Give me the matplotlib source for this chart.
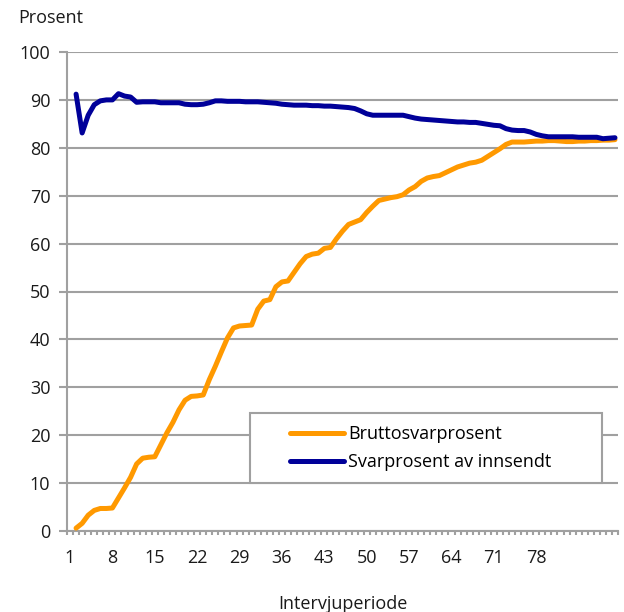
import numpy as np
import matplotlib
matplotlib.use('Agg')
import matplotlib.pyplot as plt
from matplotlib.patches import Rectangle

plt.rcParams['font.family'] = ['Open Sans', 'DejaVu Sans']

# interview periods 1..91, data starts at period 2
n_periods = 91
first_period = 2
tick_labels = [1, 8, 15, 22, 29, 36, 43, 50, 57, 64, 71, 78]

brutto = [0.6, 1.6, 3.3, 4.3, 4.7, 4.7, 4.8, 6.9, 9.0, 11.2,
          14.0, 15.2, 15.4, 15.5, 18.0, 20.5, 22.7, 25.3, 27.3, 28.1,
          28.2, 28.4, 31.6, 34.4, 37.4, 40.3, 42.4, 42.8, 42.9, 43.0,
          46.3, 48.0, 48.3, 51.0, 52.0, 52.2, 54.0, 55.8, 57.3, 57.8,
          58.0, 59.0, 59.2, 61.0, 62.6, 64.0, 64.5, 65.0, 66.5, 67.8,
          69.0, 69.3, 69.6, 69.8, 70.2, 71.2, 71.9, 73.0, 73.7, 74.0,
          74.2, 74.8, 75.4, 76.0, 76.4, 76.8, 77.0, 77.4, 78.2, 79.0,
          79.8, 80.7, 81.2, 81.2, 81.2, 81.3, 81.4, 81.4, 81.5, 81.5,
          81.4, 81.3, 81.3, 81.4, 81.4, 81.5, 81.5, 81.6, 81.6, 81.7]

innsendt = [91.2, 83.1, 86.8, 89.0, 89.8, 90.0, 90.0, 91.3, 90.8, 90.6,
            89.5, 89.6, 89.6, 89.6, 89.4, 89.4, 89.4, 89.4, 89.1, 89.0,
            89.0, 89.1, 89.4, 89.8, 89.8, 89.7, 89.7, 89.7, 89.6, 89.6,
            89.6, 89.5, 89.4, 89.3, 89.1, 89.0, 88.9, 88.9, 88.9, 88.8,
            88.8, 88.7, 88.7, 88.6, 88.5, 88.4, 88.2, 87.7, 87.1, 86.8,
            86.8, 86.8, 86.8, 86.8, 86.8, 86.5, 86.2, 86.0, 85.9, 85.8,
            85.7, 85.6, 85.5, 85.4, 85.4, 85.3, 85.3, 85.1, 84.9, 84.7,
            84.6, 84.0, 83.7, 83.6, 83.6, 83.3, 82.8, 82.5, 82.3, 82.3,
            82.3, 82.3, 82.3, 82.2, 82.2, 82.2, 82.2, 81.9, 82.0, 82.1]

x = np.arange(first_period, first_period + len(brutto))

fig = plt.figure(figsize=(6.24, 6.12), dpi=100)
ax = fig.add_axes([67/624, 1 - 531/612, 551/624, 479/612])

grid_col = '#a0a0a0'

# lines
ax.plot(x, brutto, color='#ff9900', lw=3.6, solid_capstyle='round',
        solid_joinstyle='round', zorder=4, label='Bruttosvarprosent')
ax.plot(x, innsendt, color='#000099', lw=3.6, solid_capstyle='round',
        solid_joinstyle='round', zorder=5, label='Svarprosent av innsendt')

# axes
ax.set_xlim(0.5, n_periods + 0.5)
ax.set_ylim(0, 100)
ax.set_yticks(np.arange(0, 101, 10))
ax.set_xticks(tick_labels)
ax.set_xticks(np.arange(0.5, n_periods + 1, 1), minor=True)
ax.yaxis.grid(True, color=grid_col, lw=1.5)
ax.set_axisbelow(True)

for s in ['top', 'right']:
    ax.spines[s].set_visible(False)
for s in ['left', 'bottom']:
    ax.spines[s].set_color(grid_col)
    ax.spines[s].set_linewidth(1.5)

ax.tick_params(axis='y', length=6, width=1.5, color=grid_col, pad=6,
               labelsize=13, labelcolor='#1a1a1a')
ax.tick_params(axis='x', which='major', length=0, pad=13,
               labelsize=13, labelcolor='#1a1a1a')
ax.tick_params(axis='x', which='minor', length=3, width=1.5, color=grid_col)

ax.set_xlabel('Intervjuperiode', fontsize=13, color='#1a1a1a', labelpad=20)
fig.text(18/624, 1 - 18/612, 'Prosent', fontsize=13, color='#1a1a1a',
         va='center', ha='left')

# legend box
ax.add_patch(Rectangle((0.332, 0.100), 0.639, 0.146, transform=ax.transAxes,
                       facecolor='white', edgecolor=grid_col, lw=1.5, zorder=3))
ax.legend(loc='center', bbox_to_anchor=(0.642, 0.173), frameon=False,
          fontsize=13, handlelength=3.0, handletextpad=0.2, labelspacing=0.55)

fig.savefig('out.png', dpi=100)
